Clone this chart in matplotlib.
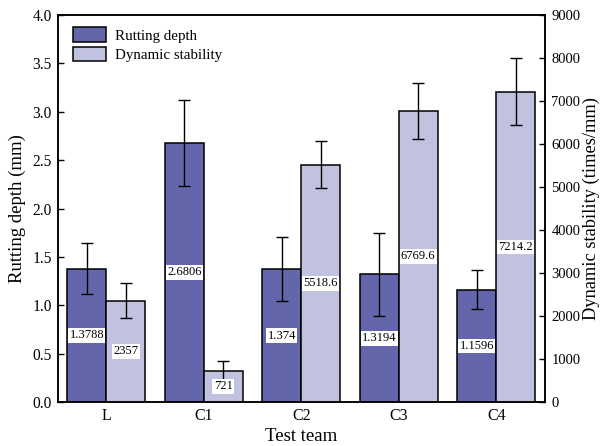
import matplotlib
matplotlib.use("Agg")
import matplotlib.pyplot as plt
import numpy as np

categories = ["L", "C1", "C2", "C3", "C4"]
rutting = [1.3788, 2.6806, 1.374, 1.3194, 1.1596]
rutting_err = [0.26, 0.445, 0.335, 0.43, 0.20]
stability = [2357, 721, 5518.6, 6769.6, 7214.2]
stability_err = [410, 230, 550, 660, 775]
rutting_labels = ["1.3788", "2.6806", "1.374", "1.3194", "1.1596"]
stability_labels = ["2357", "721", "5518.6", "6769.6", "7214.2"]

plt.rcParams['font.family'] = ['Liberation Serif', 'DejaVu Serif']

dark = "#6466AC"
light = "#C1C1E0"

fig = plt.figure(figsize=(6.02, 4.46), dpi=100)
ax = fig.add_axes([57.5/602, 44/446, (545-57.5)/602, (402-15)/446])
ax2 = ax.twinx()

x = np.arange(len(categories))
w = 0.4
ekw = dict(elinewidth=1.0, capthick=1.0, ecolor="black")
b1 = ax.bar(x - w/2, rutting, w, color=dark, edgecolor="black", linewidth=1.1,
            yerr=rutting_err, capsize=4.3, error_kw=ekw, label="Rutting depth", zorder=2)
b2 = ax2.bar(x + w/2, stability, w, color=light, edgecolor="black", linewidth=1.1,
             yerr=stability_err, capsize=4.3, error_kw=ekw, label="Dynamic stability", zorder=2)

bbox = dict(facecolor="white", edgecolor="none", pad=1.0)
for xi, v, t in zip(x, rutting, rutting_labels):
    ax.text(xi - w/2, v/2, t, ha="center", va="center", fontsize=9, bbox=bbox, zorder=5)
for xi, v, t in zip(x, stability, stability_labels):
    ax2.text(xi + w/2, v/2, t, ha="center", va="center", fontsize=9, bbox=bbox, zorder=5)

ax.set_xlim(-0.5, 4.5)
ax.set_ylim(0, 4.0)
ax2.set_ylim(0, 9000)
ax.set_yticks(np.arange(0, 4.01, 0.5))
ax.set_yticklabels([f"{v:.1f}" for v in np.arange(0, 4.01, 0.5)])
ax2.set_yticks(np.arange(0, 9001, 1000))
ax.set_xticks(x)
ax.set_xticklabels(categories)

ax.tick_params(axis="y", direction="in", length=4, width=1, labelsize=11.2, pad=4)
ax2.tick_params(axis="y", direction="in", length=4, width=1, labelsize=10.5, pad=4.5)
ax.tick_params(axis="x", length=0, labelsize=11.5, pad=4)

for a in (ax, ax2):
    for s in a.spines.values():
        s.set_linewidth(1.1)

ax.set_ylabel("Rutting depth (mm)", fontsize=13.5, va="center")
ax.yaxis.set_label_coords((17.5 - 57.5) / 487.5, 0.5)
ax2.set_ylabel("Dynamic stability (times/mm)", fontsize=13.2, va="center")
ax2.yaxis.set_label_coords((591 - 57.5) / 487.5, 0.5)
ax.set_xlabel("Test team", fontsize=13.5, labelpad=3)

handles = [b1, b2]
leg = ax.legend(handles, ["Rutting depth", "Dynamic stability"], loc="upper left",
                frameon=False, fontsize=10.8, handlelength=2.2, handleheight=1.07,
                labelspacing=0.27, handletextpad=0.6, borderaxespad=0.3,
                bbox_to_anchor=(0.01, 0.995))
leg.set_zorder(10)

fig.savefig("out.png", dpi=100)
